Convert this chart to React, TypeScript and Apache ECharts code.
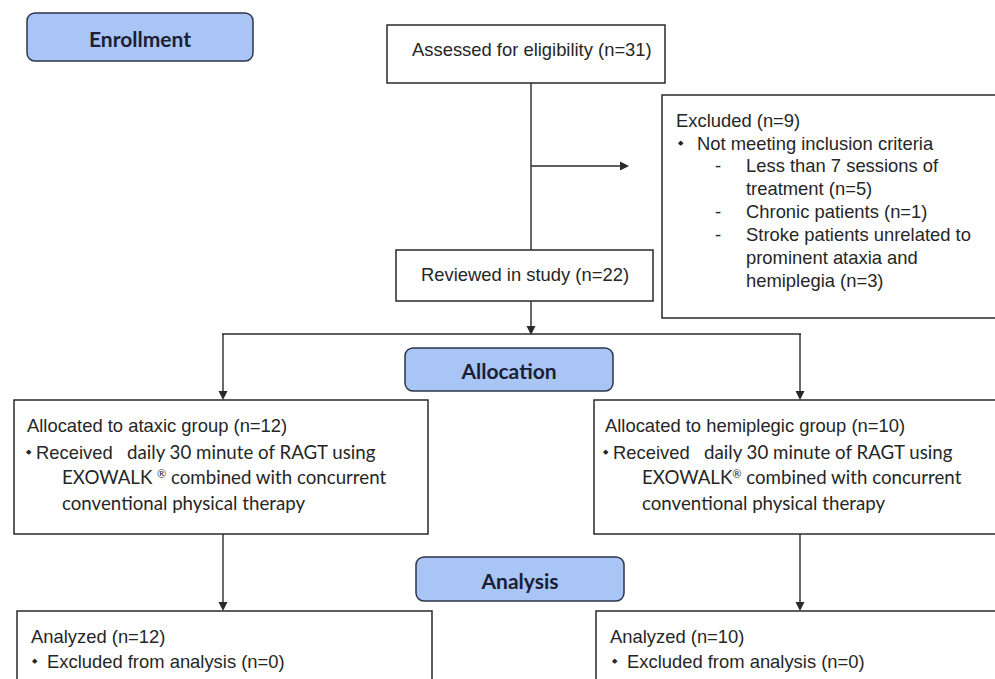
import React, { useEffect, useRef } from "react";
import * as echarts from "echarts";

// ---- Content (texts of the flow diagram) ----
const phaseLabels = ["Enrollment", "Allocation", "Analysis"];
const assessedText = "Assessed for eligibility (n=31)";
const reviewedText = "Reviewed in study (n=22)";
const excludedTitle = "Excluded (n=9)";
const excludedReason = "Not meeting inclusion criteria";
const excludedSubItems = [
  ["Less than 7 sessions of", "treatment (n=5)"],
  ["Chronic patients (n=1)"],
  ["Stroke patients unrelated to", "prominent ataxia and", "hemiplegia (n=3)"],
];
const groupTitles = ["Allocated to ataxic group (n=12)", "Allocated to hemiplegic group (n=10)"];
const interventionLead = ["Received", "Received"];
const interventionFirst = ["daily 30 minute of RAGT using", "daily 30 minute of RAGT using"];
const interventionDevice = ["EXOWALK ", "EXOWALK"];
const interventionRest = ["combined with concurrent", "combined with concurrent"];
const interventionLast = ["conventional physical therapy", "conventional physical therapy"];
const analyzedTitles = ["Analyzed (n=12)", "Analyzed (n=10)"];
const analyzedExcluded = ["Excluded from analysis (n=0)", "Excluded from analysis (n=0)"];

const ARIAL = "'Liberation Sans', Arial, sans-serif";
const CALIBRI = "Lato, 'Open Sans', sans-serif";
const TEXT = "#262626";
const LINE = "#2a2a2a";
const FS = 18.4;
const CFS = 18.7;

function box(x: number, y: number, w: number, h: number): any {
  return {
    type: "rect",
    shape: { x, y, width: w, height: h },
    style: { fill: "#ffffff", stroke: LINE, lineWidth: 1.5 },
  };
}
function pill(x: number, y: number, w: number, h: number, label: string): any[] {
  return [
    {
      type: "rect",
      shape: { x, y, width: w, height: h, r: 8 },
      style: { fill: "#a9c5f6", stroke: "#2d3448", lineWidth: 1.5 },
    },
    {
      type: "text",
      x: x + w / 2,
      y: y + h / 2 + 1,
      style: {
        text: label,
        font: `bold 21px ${CALIBRI}`,
        fill: "#1b2035",
        align: "center",
        verticalAlign: "middle",
      },
    },
  ];
}
function txt(x: number, y: number, s: string, size = FS, family = ARIAL): any {
  return {
    type: "text",
    x,
    y,
    style: { text: s, font: `${size}px ${family}`, fill: TEXT, align: "left", verticalAlign: "middle" },
  };
}
function bullet(x: number, y: number): any {
  return {
    type: "text",
    x,
    y,
    style: { text: "◆", font: `7px 'DejaVu Sans'`, fill: TEXT, align: "left", verticalAlign: "middle" },
  };
}
function line(x1: number, y1: number, x2: number, y2: number): any {
  return { type: "line", shape: { x1, y1, x2, y2 }, style: { stroke: LINE, lineWidth: 1.4 } };
}
function arrowDown(x: number, y1: number, tip: number): any[] {
  return [
    line(x, y1, x, tip - 6),
    { type: "polygon", shape: { points: [[x - 4.5, tip - 9], [x + 4.5, tip - 9], [x, tip]] }, style: { fill: LINE } },
  ];
}
function arrowRight(y: number, x1: number, tip: number): any[] {
  return [
    line(x1, y, tip - 6, y),
    { type: "polygon", shape: { points: [[tip - 9, y - 4.5], [tip - 9, y + 4.5], [tip, y]] }, style: { fill: LINE } },
  ];
}

function buildElements(): any[] {
  const els: any[] = [];
  // Enrollment
  els.push(...pill(27, 13, 226, 48, phaseLabels[0]));
  els.push(box(387, 25, 278, 58));
  els.push(txt(412, 49, assessedText));
  els.push(line(531, 83, 531, 250));
  els.push(...arrowRight(166, 531, 629));

  // Excluded box
  els.push(box(662, 95, 345, 223));
  els.push(txt(676, 120, excludedTitle));
  els.push(bullet(678, 143));
  els.push(txt(697, 143, excludedReason));
  let yy = 165;
  excludedSubItems.forEach((item) => {
    els.push(txt(715, yy, "-"));
    item.forEach((ln) => {
      els.push(txt(746, yy, ln));
      yy += 23;
    });
  });

  // Reviewed
  els.push(box(396, 250, 257, 51));
  els.push(txt(421, 274, reviewedText));
  els.push(...arrowDown(531, 301, 335));
  els.push(line(222, 334, 801, 334));
  els.push(...arrowDown(223, 334, 400));
  els.push(...arrowDown(800, 334, 400));

  // Allocation
  els.push(...pill(405, 348, 208, 43, phaseLabels[1]));
  const groupBoxes = [
    { x: 14, w: 414, tx: 27, bx: 26, rx: 36, ix: 62 },
    { x: 594, w: 420, tx: 605, bx: 603, rx: 613, ix: 642 },
  ];
  groupBoxes.forEach((g, i) => {
    els.push(box(g.x, 400, g.w, 134));
    els.push(txt(g.tx, 425, groupTitles[i]));
    els.push(bullet(g.bx, 452));
    els.push({
      type: "text",
      x: g.rx,
      y: 452,
      style: {
        text: `{a|${interventionLead[i]}}{b|   ${interventionFirst[i]}}`,
        fill: TEXT,
        align: "left",
        verticalAlign: "middle",
        rich: {
          a: { fontFamily: ARIAL, fontSize: FS, fill: TEXT },
          b: { fontFamily: CALIBRI, fontSize: CFS, fill: TEXT },
        },
      },
    });
    els.push({
      type: "text",
      x: g.ix,
      y: 477,
      style: {
        text: `{b|${interventionDevice[i]}}{s|®}{b| ${interventionRest[i]}}`,
        fill: TEXT,
        align: "left",
        verticalAlign: "middle",
        rich: {
          b: { fontFamily: CALIBRI, fontSize: CFS, fill: TEXT, verticalAlign: "middle" },
          s: { fontFamily: CALIBRI, fontSize: 11, fill: TEXT, verticalAlign: "top" },
        },
      },
    });
    els.push(txt(g.ix, 503, interventionLast[i], CFS, CALIBRI));
  });

  // Analysis
  els.push(...arrowDown(223, 534, 611));
  els.push(...arrowDown(800, 534, 611));
  els.push(...pill(416, 557, 208, 44, phaseLabels[2]));
  const anBoxes = [
    { x: 17, w: 415, tx: 31, bx: 32, ex: 47 },
    { x: 596, w: 420, tx: 610, bx: 612, ex: 627 },
  ];
  anBoxes.forEach((g, i) => {
    els.push(box(g.x, 611, g.w, 100));
    els.push(txt(g.tx, 636, analyzedTitles[i]));
    els.push(bullet(g.bx, 661));
    els.push(txt(g.ex, 661, analyzedExcluded[i]));
  });
  return els;
}

export default function App() {
  const ref = useRef<HTMLDivElement>(null);
  useEffect(() => {
    if (!ref.current) return;
    const chart = echarts.init(ref.current, undefined, { renderer: "svg" });
    chart.setOption({
      animation: false,
      backgroundColor: "#ffffff",
      graphic: { elements: buildElements() },
    });
    return () => chart.dispose();
  }, []);
  return (
    <div
      ref={ref}
      style={{ position: "fixed", left: 0, top: 0, width: 995, height: 679, background: "#fff" }}
    />
  );
}
